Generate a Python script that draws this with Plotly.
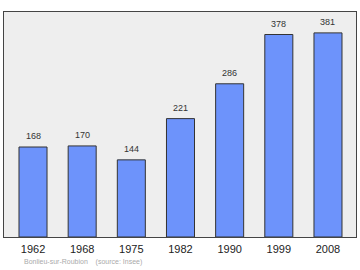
import plotly.graph_objects as go

years = ["1962", "1968", "1975", "1982", "1990", "1999", "2008"]
population = [168, 170, 144, 221, 286, 378, 381]
footer = "Bonlieu-sur-Roubion&nbsp;&nbsp;&nbsp;&nbsp;(source: Insee)"

pos = list(range(len(years)))
FONT = "Liberation Sans, Arial, sans-serif"

fig = go.Figure()
fig.add_trace(go.Bar(
    x=pos, y=population, width=0.57,
    marker=dict(color="#6d93fb", line=dict(color="#333333", width=1)),
))
annotations = [dict(x=p, y=v, xref="x", yref="y", text=str(v), showarrow=False,
                    yanchor="middle", yshift=11,
                    font=dict(family=FONT, size=9, color="#333333"))
               for p, v in zip(pos, population)]
pw, ph = 360 - 8, 270 - 45
annotations.append(dict(text=footer, x=(22 - 4) / pw, y=(237 - 262) / ph,
                        xref="paper", yref="paper", showarrow=False,
                        xanchor="left", yanchor="middle",
                        font=dict(family=FONT, size=7, color="#aaaaaa")))
fig.update_layout(
    width=360, height=270,
    margin=dict(l=4, r=4, t=12, b=33),
    paper_bgcolor="white", plot_bgcolor="#eeeeee",
    showlegend=False,
    xaxis=dict(range=[-0.59, 6.57], tickmode="array", tickvals=pos, ticktext=years,
               showgrid=False, zeroline=False, ticks="outside", ticklen=2,
               tickcolor="rgba(0,0,0,0)", showline=True, mirror=True,
               linecolor="#444444", linewidth=1,
               tickfont=dict(family=FONT, size=11, color="#222222")),
    yaxis=dict(range=[0, 420], showticklabels=False, showgrid=False, zeroline=False,
               ticks="", showline=True, mirror=True, linecolor="#444444", linewidth=1),
    annotations=annotations,
)
fig.write_html("out.html")
